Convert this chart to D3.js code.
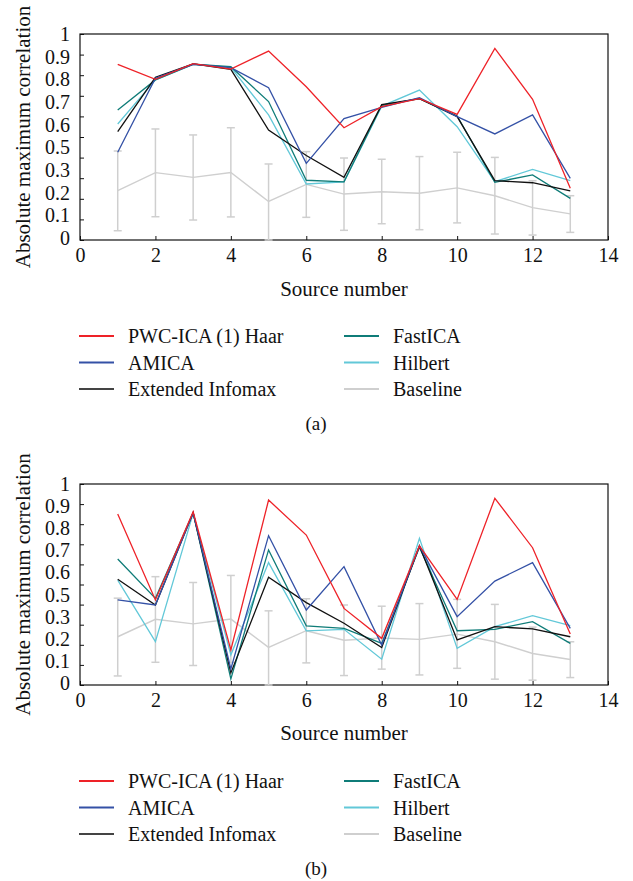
<!DOCTYPE html>
<html>
<head>
<meta charset="utf-8">
<script src="https://cdn.jsdelivr.net/npm/d3@7"></script>
<style>
  body { margin: 0; background: #fff; }
</style>
</head>
<body>
<div id="chart"></div>
<script>
const W = 633, H = 881
const FONT = "'Liberation Serif', 'Times New Roman', serif"

const sources = [1, 2, 3, 4, 5, 6, 7, 8, 9, 10, 11, 12, 13]
const xTicks = [0, 2, 4, 6, 8, 10, 12, 14]
// labels as printed on the figure (0.4 is missing)
const yTickLabels = ["1", "0.9", "0.8", "0.7", "0.6", "0.5", "0.3", "0.2", "0.1", "0"]

// baseline (same in both panels)
const baseMean = [0.24, 0.327, 0.304, 0.328, 0.187, 0.27, 0.223, 0.234, 0.227, 0.253, 0.215, 0.157, 0.127]
const baseLow  = [0.045, 0.113, 0.097, 0.112, 0.0, 0.11, 0.047, 0.079, 0.05, 0.083, 0.029, 0.024, 0.037]
const baseHigh = [0.432, 0.539, 0.51, 0.545, 0.369, 0.429, 0.398, 0.392, 0.405, 0.426, 0.401, 0.288, 0.215]

// panel (a)
const pwcA     = [0.853, 0.78, 0.856, 0.83, 0.917, 0.744, 0.545, 0.647, 0.686, 0.61, 0.93, 0.683, 0.251]
const amicaA   = [0.426, 0.785, 0.853, 0.837, 0.739, 0.372, 0.589, 0.644, 0.691, 0.599, 0.515, 0.607, 0.299]
const infomaxA = [0.526, 0.79, 0.855, 0.828, 0.534, 0.41, 0.304, 0.657, 0.686, 0.599, 0.288, 0.278, 0.239]
const fastA    = [0.631, 0.777, 0.853, 0.841, 0.672, 0.29, 0.282, 0.654, 0.686, 0.602, 0.28, 0.316, 0.202]
const hilbertA = [0.563, 0.777, 0.854, 0.838, 0.607, 0.272, 0.282, 0.65, 0.728, 0.55, 0.283, 0.343, 0.288]

// panel (b)
const pwcB     = [0.851, 0.423, 0.862, 0.174, 0.92, 0.746, 0.381, 0.232, 0.692, 0.426, 0.929, 0.683, 0.254]
const amicaB   = [0.423, 0.398, 0.857, 0.08, 0.743, 0.373, 0.589, 0.199, 0.692, 0.34, 0.517, 0.609, 0.282]
const infomaxB = [0.526, 0.398, 0.857, 0.06, 0.536, 0.41, 0.307, 0.186, 0.692, 0.224, 0.29, 0.279, 0.24]
const fastB    = [0.627, 0.431, 0.857, 0.03, 0.672, 0.294, 0.282, 0.207, 0.685, 0.27, 0.277, 0.315, 0.207]
const hilbertB = [0.522, 0.216, 0.854, 0.15, 0.609, 0.269, 0.277, 0.128, 0.73, 0.182, 0.29, 0.345, 0.295]

const names = ["PWC-ICA (1) Haar", "AMICA", "Extended Infomax", "FastICA", "Hilbert", "Baseline"]
const colors = {
  "PWC-ICA (1) Haar": "#ee2228",
  "AMICA": "#3451a6",
  "Extended Infomax": "#111111",
  "FastICA": "#0f7c78",
  "Hilbert": "#62c8d8",
  "Baseline": "#cfcfcf"
}

const svg = d3.select("#chart").append("svg")
  .attr("width", W)
  .attr("height", H)

function addText(sel, size) {
  return sel.append("text")
    .attr("font-family", FONT)
    .attr("font-size", size)
    .attr("fill", "#111")
}

function drawPanel(top, bottom, series, caption, offs) {
  const x = d3.scaleLinear().domain([0, 14]).range([80, 608])
  const y = d3.scaleLinear().domain([0, 1]).range([bottom, top])
  const yLab = d3.scalePoint().domain(yTickLabels).range([top, bottom - 2])

  const g = svg.append("g")

  // x axis ticks (inside) + labels
  const xAxis = d3.axisBottom(x).tickValues(xTicks).tickSize(-4).tickPadding(8).tickFormat(d3.format("d"))
  const gx = g.append("g").attr("transform", "translate(0," + bottom + ")").call(xAxis)
  gx.attr("font-family", FONT).attr("font-size", 20)
  gx.select(".domain").remove()
  gx.selectAll("line").attr("stroke", "#111")
  gx.selectAll("text").attr("fill", "#111")

  // y ticks at every 0.1 (inside)
  const gy = g.append("g").attr("transform", "translate(80,0)")
    .call(d3.axisLeft(y).ticks(10).tickSize(-4).tickFormat(""))
  gy.select(".domain").remove()
  gy.selectAll("line").attr("stroke", "#111")

  // printed y labels (not aligned with ticks)
  yTickLabels.forEach(d => {
    addText(g, 20)
      .attr("x", 70)
      .attr("y", yLab(d))
      .attr("dy", "0.35em")
      .attr("text-anchor", "end")
      .text(d)
  })

  // frame
  g.append("rect")
    .attr("x", x(0)).attr("y", top)
    .attr("width", x(14) - x(0)).attr("height", bottom - top)
    .attr("fill", "none").attr("stroke", "#111").attr("stroke-width", 1.2)

  // baseline with error bars
  const bars = g.append("g")
  sources.forEach((s, i) => {
    bars.append("line")
      .attr("x1", x(s)).attr("x2", x(s))
      .attr("y1", y(baseLow[i])).attr("y2", y(baseHigh[i]))
    bars.append("line")
      .attr("x1", x(s) - 4).attr("x2", x(s) + 4)
      .attr("y1", y(baseLow[i])).attr("y2", y(baseLow[i]))
    bars.append("line")
      .attr("x1", x(s) - 4).attr("x2", x(s) + 4)
      .attr("y1", y(baseHigh[i])).attr("y2", y(baseHigh[i]))
  })
  bars.selectAll("line").attr("stroke", colors["Baseline"]).attr("stroke-width", 1.5)

  const line = d3.line().x((d, i) => x(sources[i])).y(d => y(d))

  g.append("path").datum(baseMean)
    .attr("d", line).attr("fill", "none")
    .attr("stroke", colors["Baseline"]).attr("stroke-width", 1.4)

  const order = ["Hilbert", "FastICA", "Extended Infomax", "AMICA", "PWC-ICA (1) Haar"]
  order.forEach(name => {
    g.append("path").datum(series[name])
      .attr("d", line).attr("fill", "none")
      .attr("stroke", colors[name]).attr("stroke-width", 1.3)
  })

  // axis titles
  addText(g, 21)
    .attr("transform", "translate(23," + ((top + bottom) / 2) + ") rotate(-90)")
    .attr("dy", "0.35em")
    .attr("text-anchor", "middle")
    .text("Absolute maximum correlation")

  addText(g, 21)
    .attr("x", 344)
    .attr("y", offs.title)
    .attr("dy", "0.35em")
    .attr("text-anchor", "middle")
    .text("Source number")

  // legend
  names.forEach((name, i) => {
    const col = Math.floor(i / 3), row = i % 3
    const lx = col === 0 ? 79 : 344
    const ly = offs.legend + row * 26.5
    g.append("line")
      .attr("x1", lx).attr("x2", lx + 35)
      .attr("y1", ly).attr("y2", ly)
      .attr("stroke", name === "Extended Infomax" ? "#444" : colors[name])
      .attr("stroke-width", 2)
    addText(g, 20)
      .attr("x", lx + 49).attr("y", ly)
      .attr("dy", "0.35em")
      .text(name)
  })

  addText(g, 19)
    .attr("x", 316).attr("y", offs.caption)
    .attr("dy", "0.35em")
    .attr("text-anchor", "middle")
    .text(caption)
}

drawPanel(34, 240, {
  "PWC-ICA (1) Haar": pwcA, "AMICA": amicaA, "Extended Infomax": infomaxA,
  "FastICA": fastA, "Hilbert": hilbertA
}, "(a)", { title: 289, legend: 336, caption: 423 })

drawPanel(484, 685, {
  "PWC-ICA (1) Haar": pwcB, "AMICA": amicaB, "Extended Infomax": infomaxB,
  "FastICA": fastB, "Hilbert": hilbertB
}, "(b)", { title: 733, legend: 781, caption: 868 })
</script>
</body>
</html>
